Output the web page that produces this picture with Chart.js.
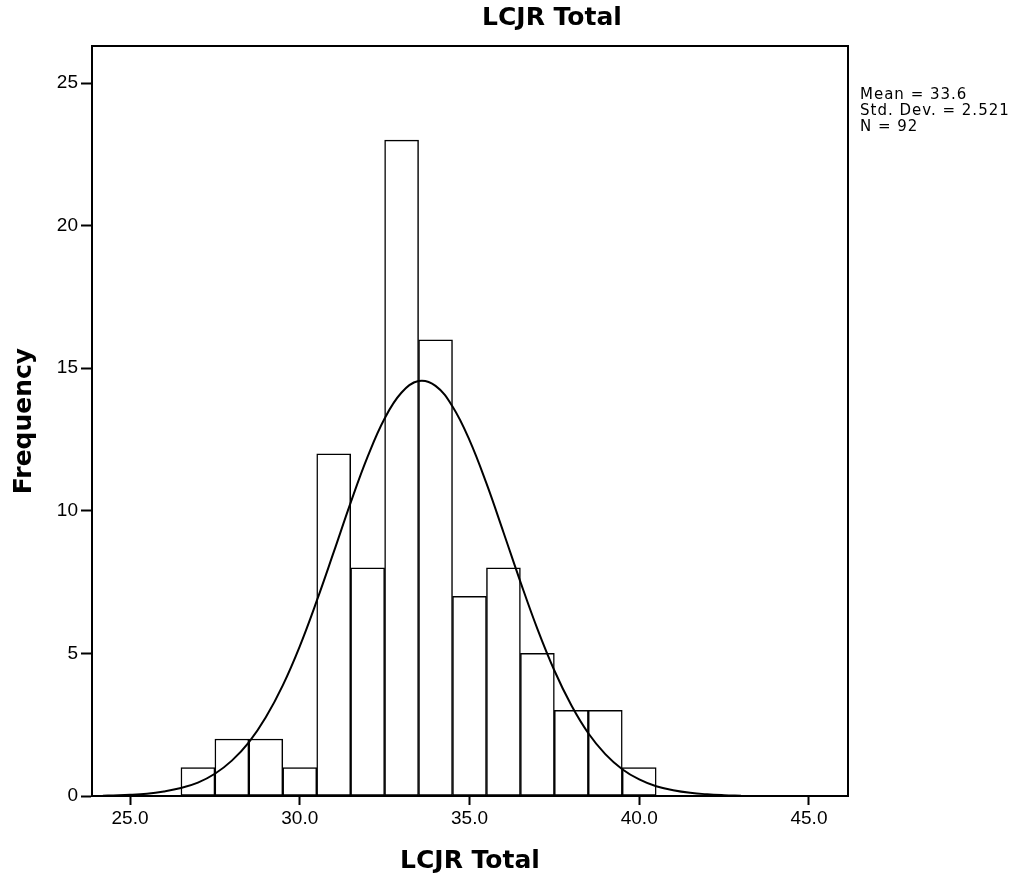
<html>
<head>
  <title>LCJR Total</title>
  <style>
    body { margin: 0; background: #fff; }
  </style>
</head>
<body>
  <canvas id="histChart" width="1018" height="881"></canvas>

  <script src="https://cdn.jsdelivr.net/npm/chart.js"></script>
  <script>
    // bins (score) and counts
    const binCenters = [27, 28, 29, 30, 31, 32, 33, 34, 35, 36, 37, 38, 39, 40];
    const binCounts = [1, 2, 2, 1, 12, 8, 23, 16, 7, 8, 5, 3, 3, 1];

    // normal curve
    const curveX = [24.2, 24.5, 25, 25.5, 26, 26.5, 27, 27.5, 28, 28.5, 29, 29.5, 30, 30.5, 31, 31.5,
      32, 32.5, 33, 33.5, 34, 34.5, 35, 35.5, 36, 36.5, 37, 37.5, 38, 38.5, 39, 39.5, 40, 40.5,
      41, 41.5, 42, 42.5, 43];
    const curveY = [0.01, 0.02, 0.04, 0.08, 0.16, 0.28, 0.47, 0.78, 1.24, 1.88, 2.76, 3.88, 5.25, 6.84, 8.55, 10.29,
      11.9, 13.24, 14.15, 14.55, 14.38, 13.66, 12.48, 10.96, 9.25, 7.51, 5.86, 4.4, 3.18, 2.2, 1.47, 0.94, 0.58, 0.34,
      0.2, 0.11, 0.06, 0.03, 0.01];

    const xTicks = [25, 30, 35, 40, 45];
    const yTicks = [0, 5, 10, 15, 20, 25];
    const chartTitle = 'LCJR Total';
    const statsLines = ['Mean = 33.6', 'Std. Dev. = 2.521', 'N = 92'];

    Chart.defaults.color = '#000';

    // title, box round the plot area, stats text on the right
    const framePlugin = {
      id: 'frame',
      afterDraw(chart) {
        const { ctx, chartArea: a } = chart;
        ctx.save();
        ctx.strokeStyle = '#000';
        ctx.lineWidth = 2;
        ctx.strokeRect(a.left, a.top, a.right - a.left, a.bottom - a.top);
        ctx.fillStyle = '#000';
        ctx.textBaseline = 'middle';
        ctx.font = 'bold 25px "DejaVu Sans"';
        ctx.textAlign = 'center';
        ctx.fillText(chartTitle, 552, 18);
        ctx.textAlign = 'left';
        ctx.font = '15px "DejaVu Sans"';
        ctx.letterSpacing = '1px';
        statsLines.forEach((t, i) => ctx.fillText(t, a.right + 12, 95 + i * 16));
        ctx.restore();
      }
    };

    const ctx = document.getElementById('histChart').getContext('2d');
    new Chart(ctx, {
      type: 'bar',
      data: {
        datasets: [{
          type: 'line',
          data: curveX.map((x, i) => ({ x: x, y: curveY[i] })),
          borderColor: '#000',
          borderWidth: 2,
          pointRadius: 0,
          tension: 0.4,
          fill: false,
          order: 0
        }, {
          type: 'bar',
          data: binCenters.map((x, i) => ({ x: x, y: binCounts[i] })),
          backgroundColor: '#fff',
          borderColor: '#000',
          borderWidth: 1.5,
          borderSkipped: false,
          barPercentage: 1,
          categoryPercentage: 1,
          order: 1
        }]
      },
      options: {
        responsive: false,
        animation: false,
        layout: { padding: { top: 46, right: 170 } },
        plugins: {
          legend: { display: false },
          tooltip: { enabled: false },
          title: { display: false }
        },
        scales: {
          x: {
            type: 'linear',
            min: 23.88,
            max: 46.15,
            offset: false,
            grid: { offset: false, drawOnChartArea: false, drawTicks: true, tickLength: 9, tickWidth: 2, color: '#000' },
            border: { color: '#000', width: 2 },
            afterBuildTicks: s => { s.ticks = xTicks.map(v => ({ value: v })); },
            afterFit: s => { s.height = 85; },
            ticks: {
              padding: 2,
              maxRotation: 0,
              font: { family: 'Liberation Sans', size: 19 },
              callback: v => v.toFixed(1)
            },
            title: {
              display: true,
              text: 'LCJR Total',
              font: { family: 'DejaVu Sans', size: 25, weight: 'bold', lineHeight: 1.2 },
              padding: { bottom: 5 }
            }
          },
          y: {
            min: 0,
            max: 26.3,
            grid: { drawOnChartArea: false, drawTicks: true, tickLength: 11, tickWidth: 2, color: '#000' },
            border: { color: '#000', width: 2 },
            afterBuildTicks: s => { s.ticks = yTicks.map(v => ({ value: v })); },
            afterFit: s => { s.width = 92; },
            ticks: {
              padding: 3,
              font: { family: 'Liberation Sans', size: 19 },
              callback: v => String(v)
            },
            title: {
              display: true,
              text: 'Frequency',
              font: { family: 'DejaVu Sans', size: 25, weight: 'bold', lineHeight: 1.2 },
              padding: { top: 9 }
            }
          }
        }
      },
      plugins: [framePlugin]
    });
  </script>
</body>
</html>
